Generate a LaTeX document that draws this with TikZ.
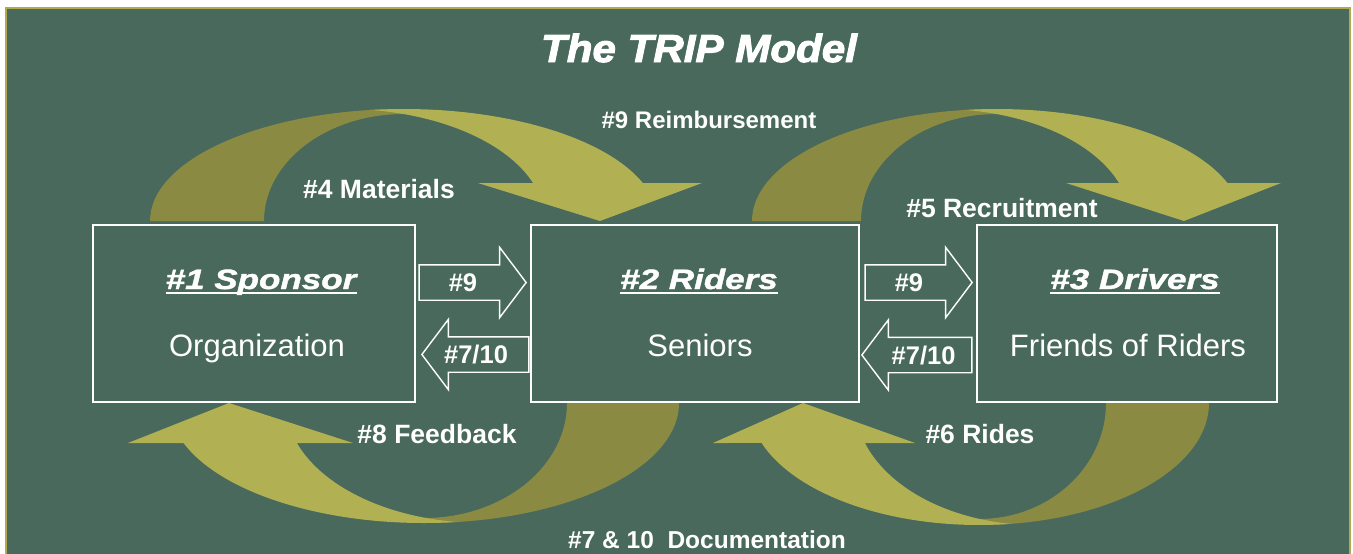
\documentclass[tikz,border=0pt]{standalone}
\usepackage{fontspec}
\setmainfont{Liberation Sans}
\newfontfamily\titlefont{Liberation Sans}[FakeStretch=1.08, FakeBold=2.5]
\newfontfamily\headfont{Liberation Sans}[FakeStretch=1.25, FakeBold=1.5]
\usepackage{tikz}
\usetikzlibrary{positioning, shapes.arrows}

\definecolor{boardgreen}{HTML}{48695C}
\definecolor{olivelight}{HTML}{B1B052}
\definecolor{olivedark}{HTML}{8B8A42}
\definecolor{frameolive}{HTML}{B3A955}

\tikzset{
    stage/.style={draw=white, line width=1.6pt, inner sep=0pt, outer sep=0pt, minimum height=177pt},
    stagehead/.style={anchor=base, inner sep=0pt, text=white, font=\headfont\bfseries\itshape\fontsize{28}{32}\selectfont},
    stagesub/.style={anchor=base, text=white, font=\fontsize{31}{36}\selectfont},
    flowlabel/.style={anchor=base, text=white, font=\bfseries\fontsize{26.5}{30}\selectfont},
    blockarrow/.style={single arrow, draw=white, line width=1.4pt, text=white,
        font=\bfseries\fontsize{25.5}{30}\selectfont, minimum height=107pt,
        text height=18pt, text depth=0pt, inner ysep=8pt, inner xsep=2pt,
        single arrow head extend=17.5pt, single arrow tip angle=106}
}

\begin{document}
\begin{tikzpicture}[x=1pt, y=-1pt]
            \useasboundingbox (0,0) rectangle (1353,554);
            \fill [white] (0,0) rectangle (1353,554);
            \filldraw [fill=boardgreen, draw=frameolive, line width=2pt] (6,8) rectangle (1350,570);

            % curved arrows: dark back part first, light front part over it
            \fill [olivedark] (150,221) arc[start angle=180, end angle=270, x radius=254, y radius=112]
                -- (404,114) arc[start angle=270, end angle=180, x radius=140, y radius=107] -- cycle;
            \fill [olivelight] (370.3,110) arc[start angle=262.4, end angle=340.2, x radius=254, y radius=112]
                -- (702,183) -- (600,221) -- (478,183) -- (533.1,183)
                arc[start angle=340.2, end angle=277.6, x radius=201.5, y radius=112] -- cycle;

            \fill [olivedark] (752,221) arc[start angle=180, end angle=270, x radius=245, y radius=112]
                -- (997,114) arc[start angle=270, end angle=180, x radius=136, y radius=107] -- cycle;
            \fill [olivelight] (964.8,110) arc[start angle=262.45, end angle=340.2, x radius=245, y radius=112]
                -- (1281,183) -- (1184,221) -- (1066,183) -- (1119,183)
                arc[start angle=340.2, end angle=277.6, x radius=190.6, y radius=112] -- cycle;

            \fill [olivedark] (679,403) arc[start angle=0, end angle=90, x radius=255, y radius=120]
                -- (424,518) arc[start angle=90, end angle=0, x radius=143, y radius=115] -- cycle;
            \fill [olivelight] (456.8,522) arc[start angle=82.6, end angle=160.5, x radius=255, y radius=120]
                -- (128,443) -- (229,403) -- (353,443) -- (296.9,443)
                arc[start angle=160.5, end angle=97.4, x radius=196.3, y radius=120] -- cycle;

            \fill [olivedark] (1209,403) arc[start angle=0, end angle=90, x radius=230, y radius=122]
                -- (979,519) arc[start angle=90, end angle=0, x radius=127, y radius=116] -- cycle;
            \fill [olivelight] (1010.9,523.8) arc[start angle=82.0, end angle=160.86, x radius=230, y radius=122]
                -- (713,443) -- (803,403) -- (915,443) -- (864.9,443)
                arc[start angle=160.86, end angle=97.97, x radius=181.1, y radius=122] -- cycle;

            \node [anchor=base, text=white, font=\titlefont\bfseries\itshape\fontsize{39}{44}\selectfont]
                (title) at (699,62) {The TRIP Model};

            \node [stage, minimum width=322pt] (sponsor) at (254,313.5) {};
            \node [stage, minimum width=328pt, right=116pt of sponsor] (riders) {};
            \node [stage, minimum width=300pt, right=118pt of riders] (drivers) {};

            \node [stagehead, xshift=7pt, yshift=24.5pt] (sponsorhead) at (sponsor.center) {\#1 Sponsor};
            \node [stagehead, xshift=4pt, yshift=24.5pt] (ridershead) at (riders.center) {\#2 Riders};
            \node [stagehead, xshift=8pt, yshift=24.5pt] (drivershead) at (drivers.center) {\#3 Drivers};
            \foreach \n in {sponsorhead, ridershead, drivershead}
                \draw [white, line width=2pt] ([yshift=-3.5pt]\n.base west) -- ([yshift=-3.5pt]\n.base east);
            \node [stagesub, xshift=3pt, yshift=-42.5pt] (sponsorsub) at (sponsor.center) {Organization};
            \node [stagesub, xshift=5pt, yshift=-42.5pt] (riderssub) at (riders.center) {Seniors};
            \node [stagesub, xshift=1pt, yshift=-42.5pt] (driverssub) at (drivers.center) {Friends of Riders};

            \node [blockarrow, anchor=tip] (payone) at ([xshift=-4pt, yshift=31pt]riders.west) {\#9\hspace*{6pt}};
            \node [blockarrow, anchor=tip, shape border rotate=180] (reportone) at ([xshift=6pt, yshift=-41pt]sponsor.east) {\#7/10\hspace*{12pt}};
            \node [blockarrow, anchor=tip] (paytwo) at ([xshift=-4pt, yshift=31pt]drivers.west) {\#9\hspace*{6pt}};
            \node [blockarrow, anchor=tip, shape border rotate=180, minimum height=110pt] (reporttwo) at ([xshift=2pt, yshift=-41.5pt]riders.east) {\#7/10};

            \node [flowlabel, font=\bfseries\fontsize{24}{28}\selectfont] (reimburse) at (709,128) {\#9 Reimbursement};
            \node [flowlabel] (materials) at (379,198) {\#4 Materials};
            \node [flowlabel] (recruit) at (1002,217) {\#5 Recruitment};
            \node [flowlabel] (feedback) at (437,443) {\#8 Feedback};
            \node [flowlabel] (rides) at (980,443) {\#6 Rides};
            \node [flowlabel, font=\bfseries\fontsize{24.5}{28}\selectfont] (docs) at (707,548) {\#7 \& 10\ \ Documentation};

        \end{tikzpicture}
\end{document}
